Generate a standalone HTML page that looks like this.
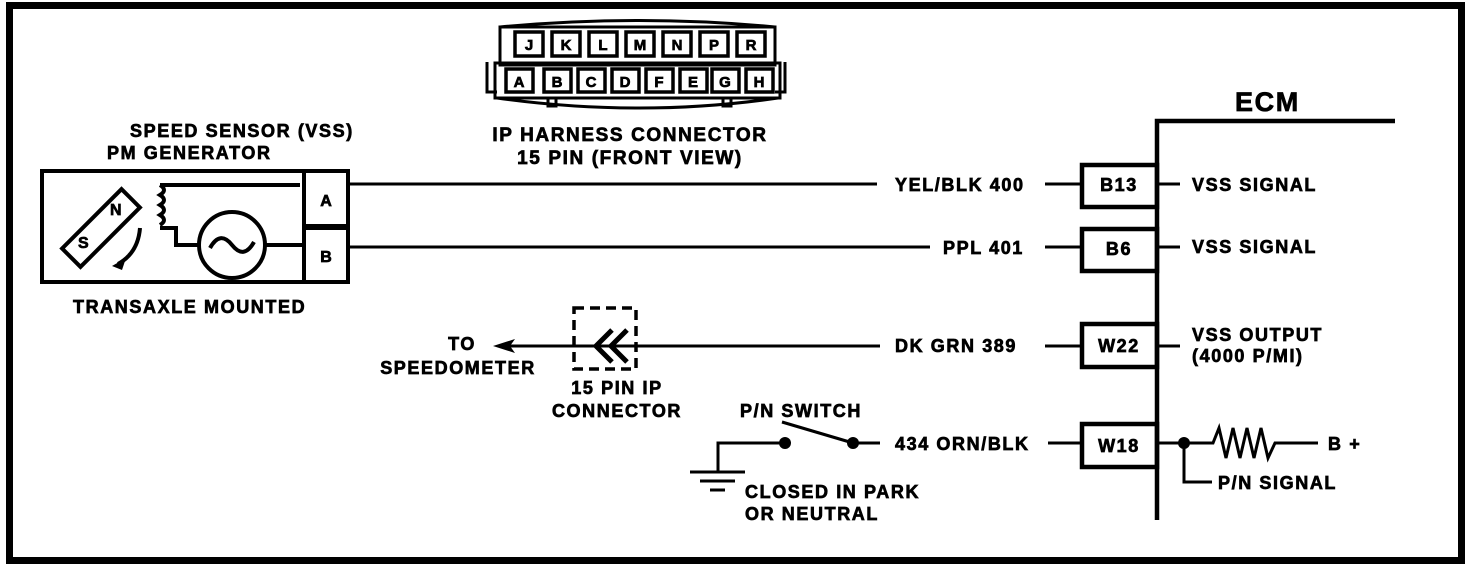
<!DOCTYPE html>
<html><head><meta charset="utf-8"><style>
html,body{margin:0;padding:0;background:#fff;}
svg{display:block;}
text{font-family:"Liberation Sans",sans-serif;font-weight:bold;fill:#000;stroke:#000;stroke-width:0.7;}
.w{letter-spacing:1.6px;}
</style></head><body>
<svg width="1472" height="564" viewBox="0 0 1472 564" xmlns="http://www.w3.org/2000/svg">
<rect x="9.5" y="5.5" width="1452" height="555" fill="none" stroke="#000" stroke-width="7"/>

<!-- IP harness connector -->
<g fill="none" stroke="#000" stroke-width="3">
<path d="M500,27 Q640,14 775,27"/>
<rect x="500" y="27" width="275" height="38"/>
<rect x="495" y="63" width="285" height="35"/>
<path d="M487,62 L487,92 L497,92"/>
<path d="M785,62 L785,92 L775,92"/>
<path d="M497,98 Q640,118 778,98"/>
<rect x="548" y="98" width="8" height="8"/>
<rect x="723" y="98" width="8" height="8"/>
</g>
<g fill="none" stroke="#000" stroke-width="3.5">
<rect x="515" y="32" width="28" height="24"/><rect x="552" y="32" width="28" height="24"/>
<rect x="589" y="32" width="28" height="24"/><rect x="626" y="32" width="28" height="24"/>
<rect x="663" y="32" width="28" height="24"/><rect x="700" y="32" width="28" height="24"/>
<rect x="737" y="32" width="28" height="24"/>
<rect x="506" y="69" width="27" height="23"/><rect x="544" y="69" width="27" height="23"/>
<rect x="578" y="69" width="27" height="23"/><rect x="612" y="69" width="27" height="23"/>
<rect x="646" y="69" width="27" height="23"/><rect x="680" y="69" width="27" height="23"/>
<rect x="712" y="69" width="27" height="23"/><rect x="746" y="69" width="27" height="23"/>
</g>
<g font-size="15" text-anchor="middle">
<text x="529" y="50">J</text><text x="566" y="50">K</text><text x="603" y="50">L</text><text x="640" y="50">M</text><text x="677" y="50">N</text><text x="714" y="50">P</text><text x="751" y="50">R</text>
<text x="519" y="87">A</text><text x="557" y="87">B</text><text x="591" y="87">C</text><text x="625" y="87">D</text><text x="659" y="87">F</text><text x="693" y="87">E</text><text x="725" y="87">G</text><text x="759" y="87">H</text>
</g>
<g font-size="19" text-anchor="middle" class="w">
<text x="630" y="141">IP HARNESS CONNECTOR</text>
<text x="630" y="164">15 PIN (FRONT VIEW)</text>
</g>

<!-- sensor -->
<g class="w">
<text x="130" y="137" font-size="18">SPEED SENSOR (VSS)</text>
<text x="107" y="159" font-size="18">PM GENERATOR</text>
<text x="73" y="313" font-size="18">TRANSAXLE MOUNTED</text>
</g>
<g fill="none" stroke="#000" stroke-width="4">
<rect x="42" y="171" width="262" height="111"/>
<rect x="304" y="171" width="44" height="55"/>
<rect x="304" y="228" width="44" height="54"/>
<rect x="-42" y="-13" width="84" height="26" transform="translate(101,228) rotate(-45)"/>
<path d="M160,185 L300,185"/>
<path d="M160,185 q8,5 0,10 q8,5 0,10 q8,5 0,10 q8,5 0,10 M160,228 L176,228 L176,245 L199,245"/>
<circle cx="232" cy="245" r="33"/>
<path d="M265,245 L304,245"/>
<path d="M210,248 q10,-18 22,-3 q12,15 22,-3"/>
<path d="M140,228 q-2,25 -22,36"/>
</g>
<path d="M112,266 l14,-8 l-4,12 z" fill="#000"/>
<text x="110" y="215" font-size="16">N</text>
<text x="78" y="248" font-size="16">S</text>
<text x="326" y="206" font-size="16" text-anchor="middle">A</text>
<text x="326" y="262" font-size="16" text-anchor="middle">B</text>

<!-- wires -->
<g stroke="#000" stroke-width="3" fill="none">
<path d="M348,184 L877,184"/><path d="M1045,184 L1080,184"/>
<path d="M348,247 L930,247"/><path d="M1045,247 L1080,247"/>
<path d="M500,346 L880,346"/><path d="M1045,346 L1080,346"/>
<path d="M853,443 L880,443"/><path d="M1048,443 L1080,443"/>
<path d="M1158,184 L1180,184"/><path d="M1158,247 L1180,247"/><path d="M1158,346 L1180,346"/>
<path d="M1158,443 L1205,443 L1213,443 l6,-15 l7,30 l7,-30 l7,30 l7,-30 l7,30 l7,-30 l7,30 l7,-15 L1318,443"/>
<path d="M1184,443 L1184,482 L1212,482"/>
<path d="M718,472 L718,443 L785,443"/>
<path d="M782,422 L853,443"/>
<path d="M690,472 L745,472 M700,481 L735,481 M710,490 L725,490"/>
</g>
<circle cx="785" cy="443" r="6"/><circle cx="853" cy="443" r="6"/><circle cx="1184" cy="443" r="6"/>
<path d="M493,346 L515,339 L510,346 L515,353 Z" fill="#000"/>

<!-- dashed connector -->
<rect x="574" y="308" width="62" height="61" fill="none" stroke="#000" stroke-width="3.5" stroke-dasharray="10,6"/>
<path d="M612,330 L596,346 L612,362 M627,330 L611,346 L627,362" fill="none" stroke="#000" stroke-width="5"/>
<g class="w" font-size="18">
<text x="462" y="350" text-anchor="middle">TO</text>
<text x="458" y="374" text-anchor="middle">SPEEDOMETER</text>
<text x="617" y="394" text-anchor="middle">15 PIN IP</text>
<text x="617" y="417" text-anchor="middle">CONNECTOR</text>
</g>

<!-- ECM -->
<g fill="none" stroke="#000" stroke-width="4.5">
<path d="M1157,520 L1157,121 L1395,121"/>
<rect x="1082" y="165" width="75" height="42"/>
<rect x="1082" y="229" width="75" height="42"/>
<rect x="1082" y="324" width="75" height="43"/>
<rect x="1082" y="424" width="75" height="43"/>
</g>
<text x="1235" y="111" font-size="27" class="w">ECM</text>
<g font-size="18" class="w">
<text x="895" y="191">YEL/BLK 400</text>
<text x="943" y="254">PPL 401</text>
<text x="895" y="352">DK GRN 389</text>
<text x="895" y="450">434 ORN/BLK</text>
<text x="1119" y="191" text-anchor="middle">B13</text>
<text x="1119" y="255" text-anchor="middle">B6</text>
<text x="1119" y="352" text-anchor="middle">W22</text>
<text x="1119" y="452" text-anchor="middle">W18</text>
<text x="1192" y="191">VSS SIGNAL</text>
<text x="1192" y="253">VSS SIGNAL</text>
<text x="1192" y="341">VSS OUTPUT</text>
<text x="1192" y="362">(4000 P/MI)</text>
<text x="1328" y="450">B +</text>
<text x="1218" y="489">P/N SIGNAL</text>
<text x="740" y="417">P/N SWITCH</text>
<text x="745" y="498">CLOSED IN PARK</text>
<text x="745" y="520">OR NEUTRAL</text>
</g>
</svg>
</body></html>
